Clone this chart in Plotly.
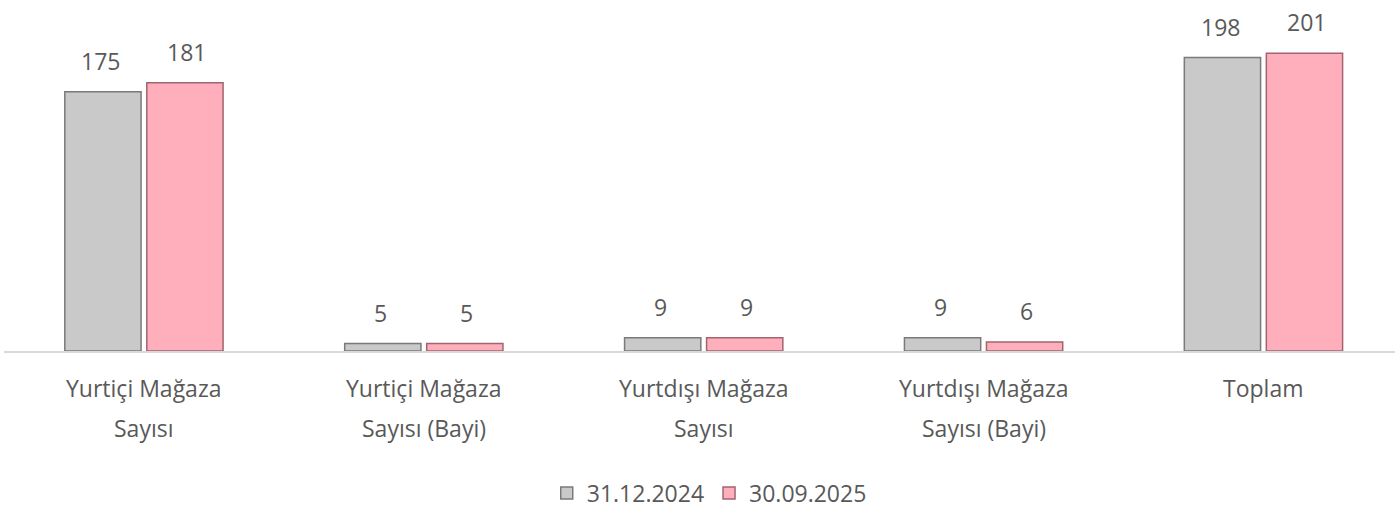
import plotly.graph_objects as go

categories = [
    "Yurtiçi Mağaza<br>Sayısı",
    "Yurtiçi Mağaza<br>Sayısı (Bayi)",
    "Yurtdışı Mağaza<br>Sayısı",
    "Yurtdışı Mağaza<br>Sayısı (Bayi)",
    "Toplam",
]
series_names = ["31.12.2024", "30.09.2025"]
values_2024 = [175, 5, 9, 9, 198]
values_2025 = [181, 5, 9, 6, 201]

TEXT = "#595959"
FONT = "Open Sans"

fig = go.Figure()
idx = list(range(len(categories)))

fig.add_trace(go.Bar(
    x=idx, y=values_2024, name=series_names[0],
    marker=dict(color="#c9c9c9", line=dict(color="#7a7a7a", width=1.5)),
))
fig.add_trace(go.Bar(
    x=idx, y=values_2025, name=series_names[1],
    marker=dict(color="#ffaebb", line=dict(color="#a06570", width=1.5)),
))

annotations = []
# value labels above bars
for vals, shift in [(values_2024, -43), (values_2025, 43)]:
    for i, v in zip(idx, vals):
        annotations.append(dict(
            x=i, y=v, xref="x", yref="y", text=str(v), showarrow=False,
            xshift=shift, yshift=31, yanchor="middle",
            font=dict(family=FONT, size=23, color=TEXT),
        ))
# category labels (two lines, wide spacing)
for i, cat in zip(idx, categories):
    for k, line in enumerate(cat.split("<br>")):
        annotations.append(dict(
            x=i, y=0, xref="x", yref="paper", text=line, showarrow=False,
            yshift=-37 - 40 * k, yanchor="middle",
            font=dict(family=FONT, size=23, color=TEXT),
        ))

fig.update_layout(
    width=1399, height=511,
    margin=dict(l=4, r=4, t=25, b=160, autoexpand=False),
    paper_bgcolor="white", plot_bgcolor="white",
    barmode="group", bargap=0.414, bargroupgap=0.07,
    font=dict(family=FONT, color=TEXT, size=22),
    showlegend=True,
    legend=dict(
        orientation="h", x=0.507, xanchor="center", y=-0.436, yanchor="middle",
        font=dict(family=FONT, size=23, color=TEXT),
        itemwidth=30,
    ),
    annotations=annotations,
    xaxis=dict(
        range=[-0.5, 4.47], showticklabels=False, showgrid=False,
        showline=True, linecolor="#d9d9d9", linewidth=1.5, zeroline=False,
    ),
    yaxis=dict(range=[0, 220], visible=False, showgrid=False, zeroline=False),
)

fig.write_html(
    "out.html",
    config={"displayModeBar": False},
    post_script="document.body.style.margin='0';",
)
